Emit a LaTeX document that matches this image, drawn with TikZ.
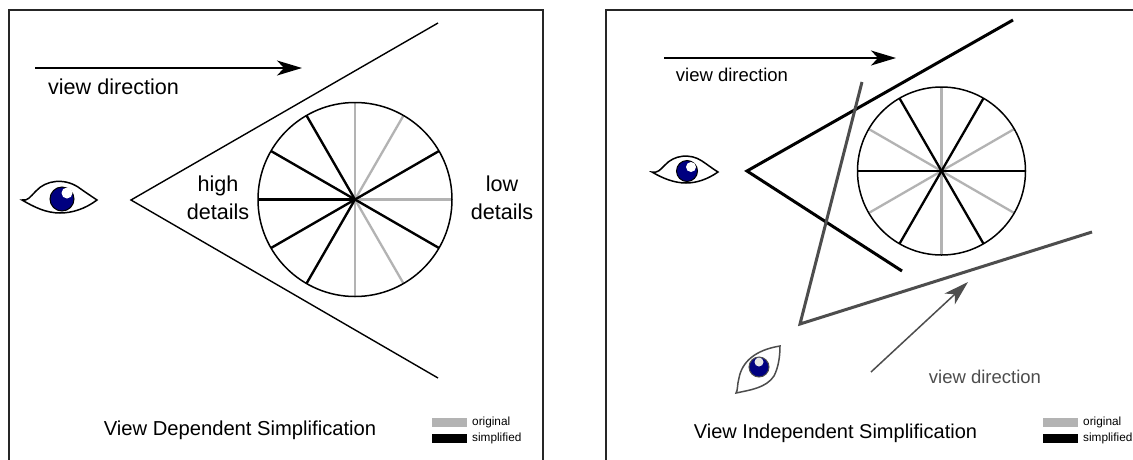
\documentclass[tikz,border=0pt]{standalone}
\usepackage{fontspec}
\setmainfont{Liberation Sans}
\usetikzlibrary{arrows.meta}
\definecolor{spokegray}{HTML}{B3B3B3}
\definecolor{planegray}{HTML}{4D4D4D}
\definecolor{irisblue}{HTML}{000080}
\tikzset{
  frame/.style={draw=black!85,line width=1.5pt},
  sightline/.style={draw=black,line width=1.4pt},
  frustum/.style={draw=black,line width=3pt,line join=miter},
  plane/.style={draw=planegray,line width=3pt,line join=miter},
  spokeo/.style={draw=spokegray,line width=2.3pt},
  spokeb/.style={draw=black,line width=2.3pt},
  wheel/.style={draw=black,line width=1.5pt},
  viewarrow/.style={draw=black,line width=1.5pt,-{Stealth[length=25pt,width=15pt,inset=7pt]}},
  grayarrow/.style={draw=planegray,line width=1.5pt,-{Stealth[length=25pt,width=15pt,inset=7pt]}},
  lbl/.style={inner sep=0pt,font=\fontsize{21.6pt}{28pt}\selectfont,align=center},
  lblsm/.style={inner sep=0pt,font=\fontsize{18.5pt}{22pt}\selectfont},
  lgtext/.style={inner sep=0pt,anchor=west,font=\fontsize{11.8pt}{14pt}\selectfont},
  lborig/.style={fill=spokegray,draw=none},
  lbsimp/.style={fill=black,draw=none},
  lid/.style={line width=1.5pt,draw=black,fill=white},
  iris/.style={draw=black,line width=1pt,fill=irisblue},
  glint/.style={fill=white,draw=none}
}
\begin{document}
\begin{tikzpicture}[x=1pt,y=-1pt]
\useasboundingbox (0,0) rectangle (1133,459);
\fill[white] (0,0) rectangle (1133,459);
\begin{scope}
\clip (0,0) rectangle (1133,459);
% frames
\draw[frame] (9,462) -- (9,10) -- (543,10) -- (543,462);
\draw[frame] (606,462) -- (606,10) -- (1136,10);
\end{scope}
% left wheel
\coordinate (lc) at (355,199.5);
\foreach \a in {0,30,...,330}
  \draw[spokeo] (lc) -- ++(\a:97 and -97);
\foreach \a in {30,120,150,180,210,240,330}
  \draw[spokeb] (lc) -- ++(\a:97 and -97);
\draw[wheel] (lc) circle[radius=97];
% left sight lines
\coordinate (la) at (131,200);
\coordinate (lt) at (438,23);
\coordinate (lb) at (438,378);
\draw[sightline] (lt) -- (la) -- (lb);
% left arrow
\coordinate (a1s) at (35,68);
\coordinate (a1e) at (302,68);
\draw[viewarrow] (a1s) -- (a1e);
\node[lbl,anchor=center] (t1) at (113.5,87) {view direction};
\node[lbl] (high) at (218,198) {high\\details};
\node[lbl] (low) at (502,198) {low\\details};
\node[inner sep=0pt,font=\fontsize{20.2pt}{24pt}\selectfont] (cap1) at (240,430) {View Dependent Simplification};
% left eye
\path[lid] (22,200) .. controls (28,201) and (30,197) .. (36,191) .. controls (46,180) and (64,178) .. (78,187) .. controls (85,192) and (91,196) .. (97,200) .. controls (85,209) and (72,213) .. (60,213) .. controls (46,213) and (34,207) .. (22,200) -- cycle;
\node[circle,iris,minimum size=24pt,inner sep=0pt] (e1) at (62,199) {};
\node[circle,glint,minimum size=11pt,inner sep=0pt] (g1) at (67,193) {};
% left legend
\node[lborig,minimum width=35pt,minimum height=9pt,inner sep=0pt] (l1a) at (449.5,422.5) {};
\node[lbsimp,minimum width=35pt,minimum height=9pt,inner sep=0pt] (l1b) at (449.5,438) {};
\node[lgtext] (l1at) at (472,422.5) {original};
\node[lgtext] (l1bt) at (472,438) {simplified};
% right wheel
\coordinate (rc) at (941.5,171);
\foreach \a in {30,90,150,210,270,330}
  \draw[spokeo] (rc) -- ++(\a:84 and -84);
\foreach \a in {0,60,120,180,240,300}
  \draw[spokeb] (rc) -- ++(\a:84 and -84);
\draw[wheel] (rc) circle[radius=84];
% right frustum and plane
\coordinate (fa) at (747,171);
\coordinate (ft) at (1013,20);
\coordinate (fb) at (902,271);
\draw[frustum] (ft) -- (fa) -- (fb);
\coordinate (pa) at (800,324);
\coordinate (pt) at (862,82);
\coordinate (pr) at (1092,232);
\draw[plane] (pt) -- (pa) -- (pr);
% right arrows
\coordinate (a2s) at (664,58);
\coordinate (a2e) at (896,58);
\draw[viewarrow] (a2s) -- (a2e);
\coordinate (a3s) at (871,372);
\coordinate (a3e) at (968,282);
\draw[grayarrow] (a3s) -- (a3e);
\node[lblsm] (t2) at (732,75) {view direction};
\node[lblsm,text=planegray] (t3) at (985,377) {view direction};
\node[inner sep=0pt,font=\fontsize{20pt}{24pt}\selectfont] (cap2) at (835.5,433) {View Independent Simplification};
% right eye
\path[lid] (652,172) .. controls (658,173) and (660,170) .. (665,165) .. controls (674,155) and (690,153) .. (702,161) .. controls (708,165) and (713,169) .. (718,172) .. controls (708,179) and (697,183) .. (686,183) .. controls (674,183) and (662,178) .. (652,172) -- cycle;
\node[circle,iris,minimum size=21pt,inner sep=0pt] (e2) at (687,171) {};
\node[circle,glint,minimum size=10pt,inner sep=0pt] (g2) at (691,167) {};
% lower eye
\path[lid,draw=planegray] (736,393) .. controls (738,390) and (737,385) .. (739,378) .. controls (742,362) and (755,350) .. (780,346) .. controls (780,358) and (778,368) .. (774,376) .. controls (766,388) and (750,390) .. (736,393) -- cycle;
\node[circle,iris,draw=planegray,minimum size=20pt,inner sep=0pt] (e3) at (759,367) {};
\node[circle,glint,fill=white!80!gray,minimum size=9pt,inner sep=0pt] (g3) at (759,362) {};
% right legend
\node[lborig,minimum width=35pt,minimum height=9pt,inner sep=0pt] (l2a) at (1060.5,422.5) {};
\node[lbsimp,minimum width=35pt,minimum height=9pt,inner sep=0pt] (l2b) at (1060.5,438) {};
\node[lgtext] (l2at) at (1083,422.5) {original};
\node[lgtext] (l2bt) at (1083,438) {simplified};
\end{tikzpicture}
\end{document}
